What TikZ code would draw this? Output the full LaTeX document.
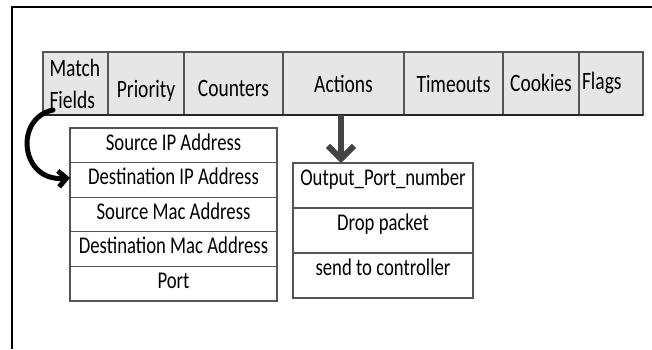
\documentclass[tikz,border=0pt]{standalone}
\usepackage{fontspec}
\setmainfont{Carlito}[FakeStretch=0.78]
\usetikzlibrary{positioning,arrows.meta}
\definecolor{headGray}{HTML}{E6E6E6}
\definecolor{edgeGray}{HTML}{555555}
\definecolor{arrowGray}{HTML}{444444}
\tikzset{
    headCell/.style={draw=edgeGray, fill=headGray, line width=1.2pt, minimum height=63pt,
		minimum width=#1, inner sep=0pt, outer sep=0pt, font=\fontsize{25}{32}\selectfont},
    headText/.style={text height=#1, text depth=5pt}
}
\tikzset{
    fieldRow/.style={draw=edgeGray, line width=1.2pt, minimum width=207pt, minimum height=34.6pt,
		inner sep=0pt, outer sep=0pt, text height=22pt, text depth=12.6pt, font=\fontsize{24}{26}\selectfont},
    actionRow/.style={draw=edgeGray, line width=1.2pt, minimum width=180pt, minimum height=45pt,
		inner sep=0pt, outer sep=0pt, text height=22pt, text depth=23pt, font=\fontsize{24}{26}\selectfont}
}

\begin{document}
\begin{tikzpicture}[x=1pt,y=-1pt]
			\useasboundingbox (0,0) rectangle (652,349);
			\draw[line width=1.5pt] (12,349) -- (12,7) -- (652,7);
			% flow entry header
			\node[headCell=65pt, text width=52pt, align=left, anchor=north west] (mf) at (43,52) {Match\\Fields};
			\node[headCell=76pt, headText=32pt, right=0pt of mf] (prio) {Priority};
			\node[headCell=99pt, headText=30pt, right=0pt of prio] (count) {Counters};
			\node[headCell=121pt, headText=22pt, right=0pt of count] (actions) {Actions};
			\node[headCell=99pt, headText=22pt, right=0pt of actions] (tout) {Timeouts};
			\node[headCell=76pt, headText=20pt, right=0pt of tout] (cook) {Cookies};
			\node[headCell=64pt, headText=16pt, text width=58pt, inner xsep=3pt, align=left, right=0pt of cook] (flags) {Flags};
			\draw[line width=2.4pt, black!85] (mf.south west) -- (flags.south east);
			% match fields
			\node[fieldRow, anchor=north west] (srcIP) at (70,128) {Source IP Address};
			\node[fieldRow, below=0pt of srcIP] (dstIP) {Destination IP Address};
			\node[fieldRow, below=0pt of dstIP] (srcMac) {Source Mac Address};
			\node[fieldRow, below=0pt of srcMac] (dstMac) {Destination Mac Address};
			\node[fieldRow, below=0pt of dstMac] (port) {Port};
			% actions
			\node[actionRow, anchor=north west] (outPort) at (293,163) {Output\_Port\_number};
			\node[actionRow, below=0pt of outPort] (drop) {Drop packet};
			\node[actionRow, below=0pt of drop] (ctrl) {send to controller};
			\draw[line width=5pt, line cap=round, -{Straight Barb[length=8pt,width=16pt]}]
				([xshift=10pt,yshift=5pt]mf.south west) .. controls (14,118) and (20,182) .. ([yshift=2pt]dstIP.west);
			\draw[line width=6pt, arrowGray, -{Straight Barb[length=13pt,width=26pt]}]
				([xshift=-2.5pt]actions.south) -- ([xshift=-2.5pt]actions.south |- outPort.north);
		\end{tikzpicture}
\end{document}
